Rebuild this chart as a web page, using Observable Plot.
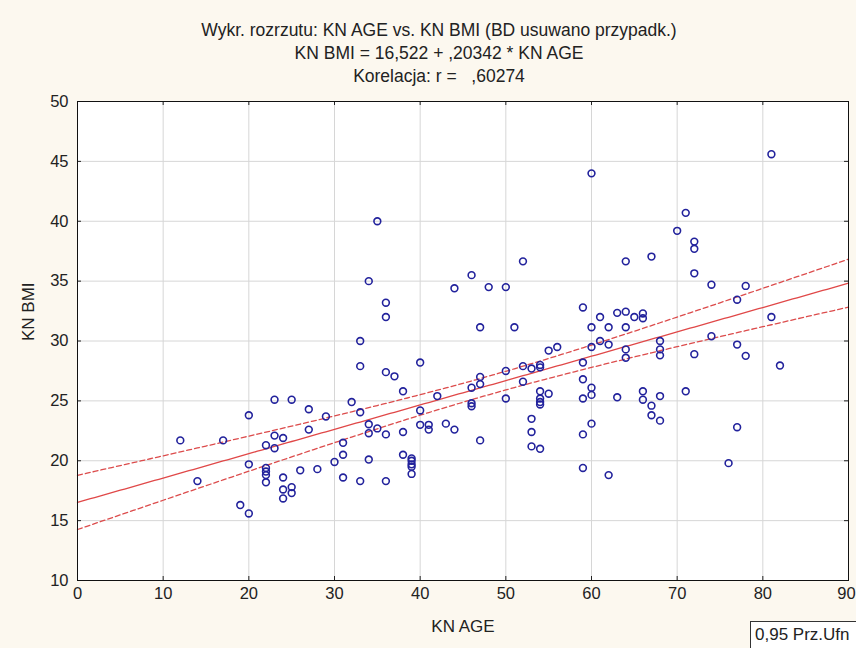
<!DOCTYPE html>
<html>
<head>
<meta charset="utf-8">
<script src="https://cdn.jsdelivr.net/npm/d3@7"></script>
<script src="https://cdn.jsdelivr.net/npm/@observablehq/plot@0.6"></script>
<style>
  body { margin: 0; background: #fcf8ef; font-family: "Liberation Sans", Arial, sans-serif; }
  #wrap { position: relative; width: 856px; height: 648px; overflow: hidden; }
  #chart { position: absolute; left: 0; top: 0; }
  .title { position: absolute; left: 0; width: 878px; text-align: center; font-size: 17.5px; line-height: 20px; color: #222; white-space: pre; }
  #legend { position: absolute; left: 750px; top: 621px; width: 130px; height: 30px; box-sizing: border-box; border: 1px solid #333; background: #fff; font-size: 17px; line-height: 26px; padding-left: 4px; color: #222; white-space: pre; }
</style>
</head>
<body>
<div id="wrap">
  <div id="chart"></div>
  <div class="title" id="t1" style="top:20px"></div>
  <div class="title" id="t2" style="top:43px"></div>
  <div class="title" id="t3" style="top:66px"></div>
  <div id="legend"></div>
</div>
<script>
// ---- Data ----
const titleLines = [
  "Wykr. rozrzutu: KN AGE vs. KN BMI (BD usuwano przypadk.)",
  "KN BMI = 16,522 + ,20342 * KN AGE",
  "Korelacja: r =   ,60274"
];
const xLabel = "KN AGE";
const yLabel = "KN BMI";
const legendText = "0,95 Prz.Ufn";

const intercept = 16.522;
const slope = 0.20342;

const xTicks = [0, 10, 20, 30, 40, 50, 60, 70, 80, 90];
const yTicks = [10, 15, 20, 25, 30, 35, 40, 45, 50];

const age = [
  12, 14, 17, 19,
  20, 20, 20,
  22, 22, 22, 22, 22,
  23, 23, 23,
  24, 24, 24, 24,
  25, 25, 25,
  26, 27, 27, 28, 29, 30,
  31, 31, 31, 32,
  33, 33, 33, 33,
  34, 34, 34, 34,
  35, 35,
  36, 36, 36, 36, 36,
  37, 38, 38, 38,
  39, 39, 39, 39, 39,
  40, 40, 40, 41, 41, 42, 43, 44, 44,
  46, 46, 46, 46,
  47, 47, 47, 47,
  48, 50, 50, 50, 51,
  52, 52, 52,
  53, 53, 53, 53,
  54, 54, 54, 54, 54, 54, 54,
  55, 55, 56,
  59, 59, 59, 59, 59, 59,
  60, 60, 60, 60, 60, 60,
  61, 61, 62, 62, 62, 63, 63,
  64, 64, 64, 64, 64,
  65, 66, 66, 66, 66,
  67, 67, 67,
  68, 68, 68, 68, 68,
  70, 71, 71, 72, 72, 72, 72,
  74, 74, 76, 77, 77, 77, 78, 78,
  81, 81, 82
];
const bmi = [
  21.7, 18.3, 21.7, 16.3,
  23.8, 19.7, 15.6,
  21.3, 19.4, 19.1, 18.8, 18.2,
  25.1, 22.1, 21.05,
  21.9, 18.6, 17.6, 16.85,
  25.1, 17.8, 17.3,
  19.2, 24.3, 22.6, 19.3, 23.7, 19.9,
  21.5, 20.5, 18.6, 24.9,
  30.0, 27.9, 24.05, 18.3,
  35.0, 23.05, 22.3, 20.1,
  40.0, 22.7,
  33.2, 32.0, 27.4, 22.2, 18.3,
  27.05, 25.8, 22.4, 20.5,
  20.2, 20.0, 19.7, 19.5, 18.9,
  28.2, 24.2, 23.0, 23.0, 22.6, 25.4, 23.1, 34.4, 22.6,
  35.5, 26.1, 24.8, 24.55,
  31.15, 27.0, 26.4, 21.7,
  34.5, 34.5, 27.5, 25.2, 31.15,
  36.65, 27.9, 26.6,
  27.7, 23.5, 22.4, 21.2,
  28.0, 27.8, 25.8, 25.2, 24.9, 24.7, 21.0,
  29.2, 25.6, 29.5,
  32.8, 28.2, 26.8, 25.2, 22.2, 19.4,
  44.0, 31.15, 29.5, 26.1, 25.5, 23.1,
  32.0, 30.0, 31.15, 29.7, 18.8, 32.35, 25.3,
  36.65, 32.45, 31.15, 29.3, 28.6,
  32.0, 32.3, 31.9, 25.8, 25.1,
  37.05, 24.6, 23.8,
  30.0, 29.3, 28.8, 25.4, 23.35,
  39.2, 40.7, 25.8, 38.3, 37.7, 35.65, 28.9,
  34.7, 30.4, 19.8, 33.45, 29.7, 22.8, 34.6, 28.76,
  45.6, 32.0, 27.95
];

// ---- Build table and fit band ----
const points = age.map((a, i) => ({age: a, bmi: bmi[i]}));
const n = points.length;
const meanX = d3.mean(age);
const sxx = d3.sum(age, a => (a - meanX) ** 2);
const sse = d3.sum(points, p => (p.bmi - (intercept + slope * p.age)) ** 2);
const se = Math.sqrt(sse / (n - 2));
const tCrit = 1.976;
const fit = d3.range(0, 90.25, 0.5).map(x => {
  const yhat = intercept + slope * x;
  const hw = tCrit * se * Math.sqrt(1 / n + (x - meanX) ** 2 / sxx);
  return {x, yhat, lo: yhat - hw, hi: yhat + hw};
});

const W = 856, H = 648;
const mTop = 101, mBottom = 68, mLeft = 77, mRight = 8;
const innerW = W - mLeft - mRight, innerH = H - mTop - mBottom;
const tickLen = 4;

const chart = Plot.plot({
  width: W,
  height: H,
  marginTop: mTop,
  marginBottom: mBottom,
  marginLeft: mLeft,
  marginRight: mRight,
  style: {background: "transparent", fontFamily: "'Liberation Sans', Arial, sans-serif", fontSize: "16.5px", color: "#222"},
  x: {domain: [0, 90], ticks: xTicks, axis: null},
  y: {domain: [10, 50], ticks: yTicks, tickSize: 0, tickPadding: 9, tickFormat: d => String(d), label: null},
  marks: [
    Plot.frame({fill: "#ffffff", stroke: "none"}),
    Plot.ruleX(xTicks, {x: d => d, stroke: "#d6d6d6", strokeWidth: 1}),
    Plot.ruleY(yTicks, {y: d => d, stroke: "#d6d6d6", strokeWidth: 1}),
    Plot.line(fit, {x: "x", y: "hi", stroke: "#dc4c4c", strokeWidth: 1.3, strokeDasharray: "5,3"}),
    Plot.line(fit, {x: "x", y: "lo", stroke: "#dc4c4c", strokeWidth: 1.3, strokeDasharray: "5,3"}),
    Plot.line(fit, {x: "x", y: "yhat", stroke: "#e04848", strokeWidth: 1.3}),
    Plot.dot(points, {x: "age", y: "bmi", r: 3.4, stroke: "#22229c", strokeWidth: 1.6, fill: "none"}),
    Plot.tickX(xTicks, {x: d => d, stroke: "#222", insetTop: innerH - tickLen}),
    Plot.tickX(xTicks, {x: d => d, stroke: "#222", insetBottom: innerH - tickLen}),
    Plot.tickY(yTicks, {y: d => d, stroke: "#222", insetRight: innerW - tickLen}),
    Plot.tickY(yTicks, {y: d => d, stroke: "#222", insetLeft: innerW - tickLen}),
    Plot.frame({stroke: "#111", strokeWidth: 1}),
    // x tick labels (last one nudged left so it stays inside the page)
    Plot.text(xTicks.slice(0, -1), {x: d => d, frameAnchor: "bottom", dy: 18, text: d => String(d), fill: "#222"}),
    Plot.text(xTicks.slice(-1), {x: d => d, frameAnchor: "bottom", dy: 18, dx: -2, text: d => String(d), fill: "#222"}),
    Plot.text([xLabel], {frameAnchor: "bottom", dy: 51, text: d => d, fontSize: 17, fill: "#222"}),
    Plot.text([yLabel], {frameAnchor: "left", dx: -49, rotate: -90, text: d => d, fontSize: 17, fill: "#222"})
  ]
});
document.getElementById("chart").appendChild(chart);
document.getElementById("t1").textContent = titleLines[0];
document.getElementById("t2").textContent = titleLines[1];
document.getElementById("t3").textContent = titleLines[2];
document.getElementById("legend").textContent = legendText;
</script>
</body>
</html>
